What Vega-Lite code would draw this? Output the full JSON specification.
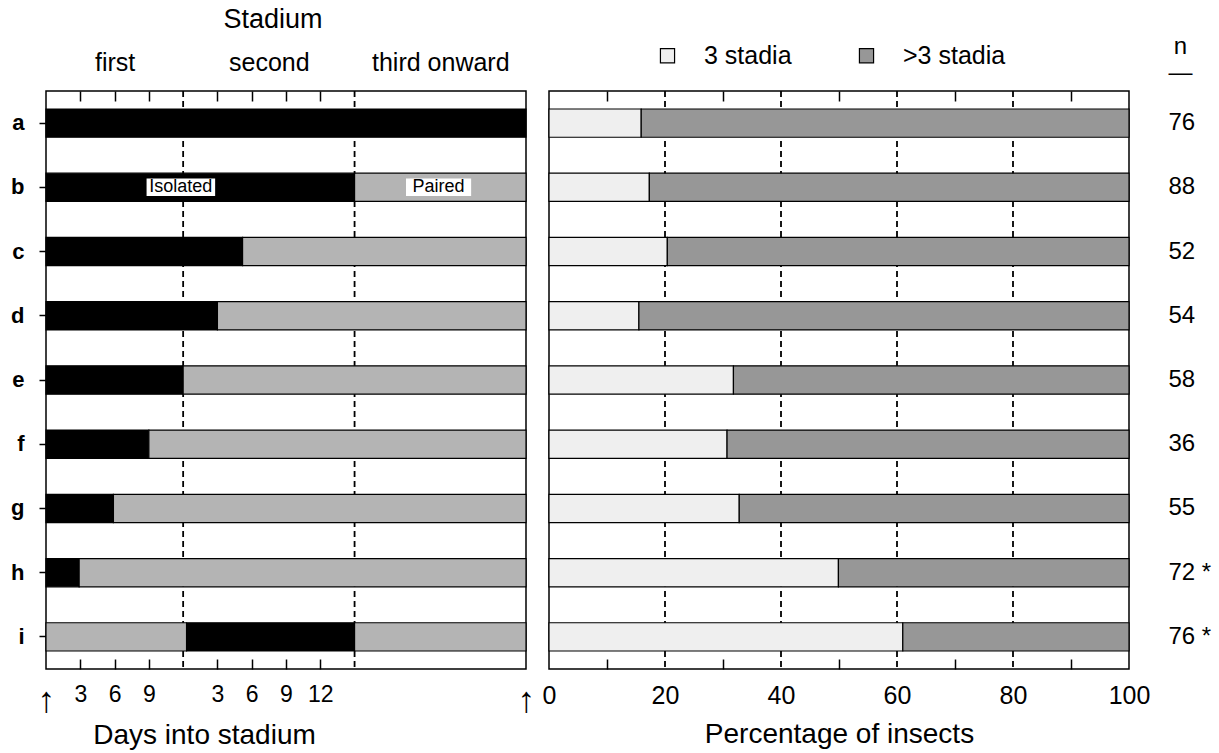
{
  "$schema": "https://vega.github.io/schema/vega-lite/v6.json",
  "padding": {"left": 9, "top": 5, "right": 0, "bottom": 0},
  "spacing": 5,
  "resolve": {"scale": {"color": "independent"}},
  "config": {
    "font": "Liberation Sans",
    "view": {"stroke": "black", "strokeWidth": 1.5},
    "axis": {"labelColor": "black", "titleColor": "black", "tickColor": "black", "domainColor": "black", "labelFont": "Liberation Sans", "titleFont": "Liberation Sans", "titleFontWeight": "normal", "grid": false},
    "legend": {"labelFont": "Liberation Sans", "labelColor": "black"}
  },
  "hconcat": [
    {
      "width": 480,
      "height": 578,
      "title": {"text": "Stadium", "fontSize": 27, "fontWeight": "normal", "color": "black", "dx": -13, "offset": 16},
      "layer": [
        {
          "data": {"values": [{"boundary": 12}, {"boundary": 27}]},
          "mark": {"type": "rule", "strokeDash": [6, 4], "strokeWidth": 1.8, "color": "black"},
          "encoding": {
            "x": {
              "field": "boundary", "type": "quantitative",
              "scale": {"domain": [0, 42], "nice": false, "zero": false},
              "axis": {
                "orient": "top", "title": null, "domain": false,
                "values": [3, 6, 9, 15, 18, 19.5, 21, 24, 34.5],
                "tickSize": -10, "tickWidth": 1.5,
                "tickOpacity": {"condition": {"test": "datum.value == 19.5 || datum.value == 34.5", "value": 0}, "value": 1},
                "labelExpr": "datum.value == 6 ? 'first' : datum.value == 19.5 ? 'second' : datum.value == 34.5 ? 'third onward' : ''",
                "labelFontSize": 25, "labelPadding": 26, "labelFlush": false, "labelOverlap": false, "labelBound": false
              }
            }
          }
        },
        {
          "data": {"values": [
            {"row": "a", "status": "Isolated", "start": 0, "end": 42},
            {"row": "b", "status": "Isolated", "start": 0, "end": 27},
            {"row": "b", "status": "Paired", "start": 27, "end": 42},
            {"row": "c", "status": "Isolated", "start": 0, "end": 17.2},
            {"row": "c", "status": "Paired", "start": 17.2, "end": 42},
            {"row": "d", "status": "Isolated", "start": 0, "end": 15},
            {"row": "d", "status": "Paired", "start": 15, "end": 42},
            {"row": "e", "status": "Isolated", "start": 0, "end": 12},
            {"row": "e", "status": "Paired", "start": 12, "end": 42},
            {"row": "f", "status": "Isolated", "start": 0, "end": 9},
            {"row": "f", "status": "Paired", "start": 9, "end": 42},
            {"row": "g", "status": "Isolated", "start": 0, "end": 5.9},
            {"row": "g", "status": "Paired", "start": 5.9, "end": 42},
            {"row": "h", "status": "Isolated", "start": 0, "end": 2.9},
            {"row": "h", "status": "Paired", "start": 2.9, "end": 42},
            {"row": "i", "status": "Paired", "start": 0, "end": 12.3},
            {"row": "i", "status": "Isolated", "start": 12.3, "end": 27},
            {"row": "i", "status": "Paired", "start": 27, "end": 42}
          ]},
          "mark": {"type": "bar", "stroke": "black", "strokeWidth": 1.2},
          "encoding": {
            "y": {
              "field": "row", "type": "nominal",
              "scale": {"paddingInner": 0.56, "paddingOuter": 0.28},
              "axis": {"orient": "left", "title": null, "domain": false, "tickSize": 7, "tickWidth": 1.5, "labelFontSize": 22, "labelFontWeight": "bold", "labelPadding": 15}
            },
            "x": {
              "field": "start", "type": "quantitative",
              "axis": {
                "orient": "bottom", "title": "Days into stadium", "titleFontSize": 28, "titleX": 158, "titleAlign": "center", "titlePadding": 3,
                "domain": false,
                "values": [0, 3, 6, 9, 15, 18, 21, 24, 42],
                "tickSize": -10, "tickWidth": 1.5,
                "tickOpacity": {"condition": {"test": "datum.value == 0 || datum.value == 42", "value": 0}, "value": 1},
                "labelExpr": "datum.value == 0 || datum.value == 42 ? '↑' : datum.value == 15 ? '3' : datum.value == 18 ? '6' : datum.value == 21 ? '9' : datum.value == 24 ? '12' : datum.label",
                "labelFontSize": {"condition": {"test": "datum.value == 0 || datum.value == 42", "value": 36}, "value": 23},
                "labelFontWeight": {"condition": {"test": "datum.value == 0 || datum.value == 42", "value": "bold"}, "value": "normal"},
                "labelPadding": 24, "labelFlush": false, "labelOverlap": false, "labelBound": false
              }
            },
            "x2": {"field": "end"},
            "color": {"field": "status", "type": "nominal", "scale": {"domain": ["Isolated", "Paired"], "range": ["#000000", "#b4b4b4"]}, "legend": null}
          }
        },
        {
          "data": {"values": [
            {"label": "Isolated", "row": "b", "from": 8.8, "to": 14.8},
            {"label": "Paired", "row": "b", "from": 31.5, "to": 37.2}
          ]},
          "mark": {"type": "bar", "fill": "white", "height": {"band": 0.62}},
          "encoding": {
            "y": {"field": "row", "type": "nominal"},
            "x": {"field": "from", "type": "quantitative", "axis": null},
            "x2": {"field": "to"}
          }
        },
        {
          "data": {"values": [
            {"label": "Isolated", "row": "b", "mid": 11.8},
            {"label": "Paired", "row": "b", "mid": 34.35}
          ]},
          "mark": {"type": "text", "fontSize": 18, "color": "black", "align": "center", "baseline": "middle"},
          "encoding": {
            "y": {"field": "row", "type": "nominal"},
            "x": {"field": "mid", "type": "quantitative", "axis": null},
            "text": {"field": "label"}
          }
        }
      ],
      "resolve": {"axis": {"x": "independent"}}
    },
    {
      "width": 580,
      "height": 578,
      "layer": [
        {
          "data": {"values": [{"gridpct": 20}, {"gridpct": 40}, {"gridpct": 60}, {"gridpct": 80}]},
          "mark": {"type": "rule", "strokeDash": [6, 4], "strokeWidth": 1.8, "color": "black"},
          "encoding": {
            "x": {
              "field": "gridpct", "type": "quantitative",
              "scale": {"domain": [0, 100], "nice": false},
              "axis": {"orient": "top", "title": null, "domain": false, "labels": false, "values": [10, 30, 50, 70, 90], "tickSize": -10, "tickWidth": 1.5}
            }
          }
        },
        {
          "data": {"values": [
            {"row": "a", "nlab": "76", "stadia": "3 stadia", "pct": 15.9},
            {"row": "a", "nlab": "76", "stadia": ">3 stadia", "pct": 84.1},
            {"row": "b", "nlab": "88", "stadia": "3 stadia", "pct": 17.3},
            {"row": "b", "nlab": "88", "stadia": ">3 stadia", "pct": 82.7},
            {"row": "c", "nlab": "52", "stadia": "3 stadia", "pct": 20.4},
            {"row": "c", "nlab": "52", "stadia": ">3 stadia", "pct": 79.6},
            {"row": "d", "nlab": "54", "stadia": "3 stadia", "pct": 15.5},
            {"row": "d", "nlab": "54", "stadia": ">3 stadia", "pct": 84.5},
            {"row": "e", "nlab": "58", "stadia": "3 stadia", "pct": 31.8},
            {"row": "e", "nlab": "58", "stadia": ">3 stadia", "pct": 68.2},
            {"row": "f", "nlab": "36", "stadia": "3 stadia", "pct": 30.7},
            {"row": "f", "nlab": "36", "stadia": ">3 stadia", "pct": 69.3},
            {"row": "g", "nlab": "55", "stadia": "3 stadia", "pct": 32.8},
            {"row": "g", "nlab": "55", "stadia": ">3 stadia", "pct": 67.2},
            {"row": "h", "nlab": "72  *", "stadia": "3 stadia", "pct": 49.9},
            {"row": "h", "nlab": "72  *", "stadia": ">3 stadia", "pct": 50.1},
            {"row": "i", "nlab": "76  *", "stadia": "3 stadia", "pct": 61.0},
            {"row": "i", "nlab": "76  *", "stadia": ">3 stadia", "pct": 39.0}
          ]},
          "mark": {"type": "bar", "stroke": "black", "strokeWidth": 1.2},
          "encoding": {
            "y": {
              "field": "nlab", "type": "nominal", "sort": null,
              "scale": {"paddingInner": 0.56, "paddingOuter": 0.28},
              "axis": {"orient": "right", "title": ["n", "—"], "titleAngle": 0, "titleX": 51, "titleY": -38, "titleAlign": "center", "titleBaseline": "alphabetic", "titleFontSize": 24, "titleLineHeight": 26, "domain": false, "ticks": false, "labelFontSize": 24, "labelPadding": 39, "labelAlign": "left"}
            },
            "x": {
              "field": "pct", "type": "quantitative", "stack": "zero",
              "axis": {
                "orient": "bottom", "title": "Percentage of insects", "titleFontSize": 28, "titlePadding": 12,
                "domain": false,
                "values": [0, 10, 20, 30, 40, 50, 60, 70, 80, 90, 100],
                "labelExpr": "datum.value % 20 == 0 ? datum.label : ''",
                "tickOpacity": {"condition": {"test": "datum.value % 20 == 0", "value": 0}, "value": 1},
                "tickSize": -10, "tickWidth": 1.5,
                "labelFontSize": 25, "labelPadding": 24, "labelFlush": false, "labelOverlap": false, "labelBound": false
              }
            },
            "order": {"field": "stadia", "sort": "ascending"},
            "color": {
              "field": "stadia", "type": "nominal",
              "scale": {"domain": ["3 stadia", ">3 stadia"], "range": ["#efefef", "#979797"]},
              "legend": {"orient": "none", "legendX": 106, "legendY": -48, "direction": "horizontal", "title": null, "symbolType": "square", "symbolSize": 200, "symbolStrokeColor": "black", "symbolStrokeWidth": 1.2, "labelFontSize": 25, "labelOffset": 24, "columnPadding": 62}
            }
          }
        }
      ],
      "resolve": {"axis": {"x": "independent"}}
    }
  ]
}
